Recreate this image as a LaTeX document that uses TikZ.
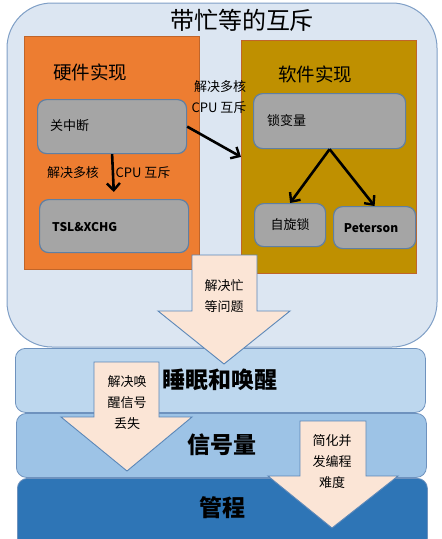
\documentclass[tikz,border=0pt]{standalone}
\usepackage{fontspec}
\setmainfont{Noto Sans CJK SC}
\usetikzlibrary{arrows.meta}
\definecolor{outerfill}{HTML}{DCE6F2}
\definecolor{outerline}{HTML}{7F9FC6}
\definecolor{hwfill}{HTML}{ED7D31}
\definecolor{hwline}{HTML}{C0652A}
\definecolor{swfill}{HTML}{BF9000}
\definecolor{swline}{HTML}{C0652A}
\definecolor{boxfill}{HTML}{A5A5A5}
\definecolor{boxline}{HTML}{5F7FA3}
\definecolor{bigarrow}{HTML}{FBE5D6}
\definecolor{bigarrowline}{HTML}{5B87B8}
\definecolor{bandA}{HTML}{BDD7EE}
\definecolor{bandB}{HTML}{9DC3E6}
\definecolor{bandC}{HTML}{2E75B6}
\definecolor{bandline}{HTML}{6E92BE}
\tikzset{
  region/.style={draw, line width=0.8pt, inner sep=0pt, anchor=north west},
  mechbox/.style={draw=boxline, fill=boxfill, line width=1.2pt, rounded corners=9pt, inner sep=0pt, anchor=north west},
  band/.style={draw=bandline, line width=0.8pt, rounded corners=10pt, inner sep=0pt, anchor=north west},
  boxlabel/.style={font=\fontsize{13}{15}\selectfont, inner sep=0pt, anchor=west},
  sidelabel/.style={font=\fontsize{13}{15}\selectfont, inner sep=0pt},
  heading/.style={font=\fontsize{18.5}{20}\selectfont, inner sep=0pt},
  bandlabel/.style={font=\fontsize{23}{25}\selectfont\bfseries, inner sep=0pt},
  flowtext/.style={font=\fontsize{13}{21}\selectfont, align=center, inner sep=0pt},
  blockarrow/.style={draw=bigarrowline, fill=bigarrow, line width=0.9pt, line join=miter},
  conn/.style={draw, line width=2.6pt, -{Straight Barb[length=7pt,width=13pt,line width=2.4pt]}},
}
\begin{document}
\begin{tikzpicture}[x=1pt,y=-1pt]
\useasboundingbox (0,0) rectangle (442,539);

% outer container
\draw[draw=outerline, fill=outerfill, line width=1pt, rounded corners=45pt] (7,3) rectangle (437,347);
\node[font=\fontsize{24}{26}\selectfont, inner sep=0pt] (title) at (242,20) {带忙等的互斥};

% hardware column
\node[region, draw=hwline, fill=hwfill, minimum width=175pt, minimum height=233pt] (hw) at (24,36) {};
\node[heading, anchor=west] (hwtitle) at (53,72) {硬件实现};
\node[mechbox, minimum width=149pt, minimum height=54pt] (gzd) at (37,99) {};
\node[boxlabel] (gzdtext) at (50,126) {关中断};
\node[mechbox, minimum width=149pt, minimum height=53pt] (tsl) at (39,199) {};
\node[boxlabel, font=\fontsize{12}{14}\selectfont\bfseries] (tsltext) at (52,227) {TSL\&XCHG};

% software column
\node[region, draw=swline, fill=swfill, minimum width=175pt, minimum height=233pt] (sw) at (241,40) {};
\node[heading, anchor=west] (swtitle) at (278,74) {软件实现};
\node[mechbox, minimum width=152pt, minimum height=55pt] (lock) at (253,93) {};
\node[boxlabel] (locktext) at (267,121) {锁变量};
\node[mechbox, minimum width=71pt, minimum height=43pt] (spin) at (254,203) {};
\node[boxlabel, anchor=center] (spintext) at (290,225) {自旋锁};
\node[mechbox, minimum width=82pt, minimum height=42pt] (pet) at (333,206) {};
\node[boxlabel, anchor=center, font=\fontsize{12}{14}\selectfont\bfseries] (pettext) at (371,228) {Peterson};

% connectors
\draw[conn, shorten >=7pt] (gzd.south) -- (tsl.north);
\node[sidelabel] (lblA) at (73,173) {解决多核};
\node[sidelabel] (lblB) at (143,173) {CPU 互斥};
\draw[conn] (gzd.east) -- (sw.west);
\node[sidelabel] (lblC) at (220,87) {解决多核};
\node[sidelabel] (lblD) at (219,108) {CPU 互斥};
\draw[conn] (lock.south) -- (spin.north);
\draw[conn] (lock.south) -- (pet.north);

% layered bands
\node[band, fill=bandA, minimum width=410pt, minimum height=64pt] (sleep) at (15,348) {};
\node[bandlabel] (sleeptext) at (220,380) {睡眠和唤醒};
\node[band, fill=bandB, minimum width=410pt, minimum height=64pt] (sem) at (16,413) {};
\node[bandlabel] (semtext) at (222,445) {信号量};
\node[band, fill=bandC, minimum width=410pt, minimum height=70pt] (mon) at (17,478) {};
\node[bandlabel] (montext) at (222,508) {管程};

% block arrows between levels
\draw[blockarrow] (192,255) -- (257,255) -- (257,311) -- (290,311) -- (224,364) -- (158,311) -- (192,311) -- cycle;
\node[flowtext] (flowA) at (224,296.5) {解决忙\\等问题};
\draw[blockarrow] (94,362) -- (159,362) -- (159,417) -- (192,417) -- (127,471) -- (61,417) -- (94,417) -- cycle;
\node[flowtext] (flowB) at (127,403) {解决唤\\醒信号\\丢失};
\draw[blockarrow] (300,421) -- (366,421) -- (366,476) -- (398,476) -- (332,528) -- (268,476) -- (300,476) -- cycle;
\node[flowtext] (flowC) at (332,461.5) {简化并\\发编程\\难度};
\end{tikzpicture}
\end{document}
